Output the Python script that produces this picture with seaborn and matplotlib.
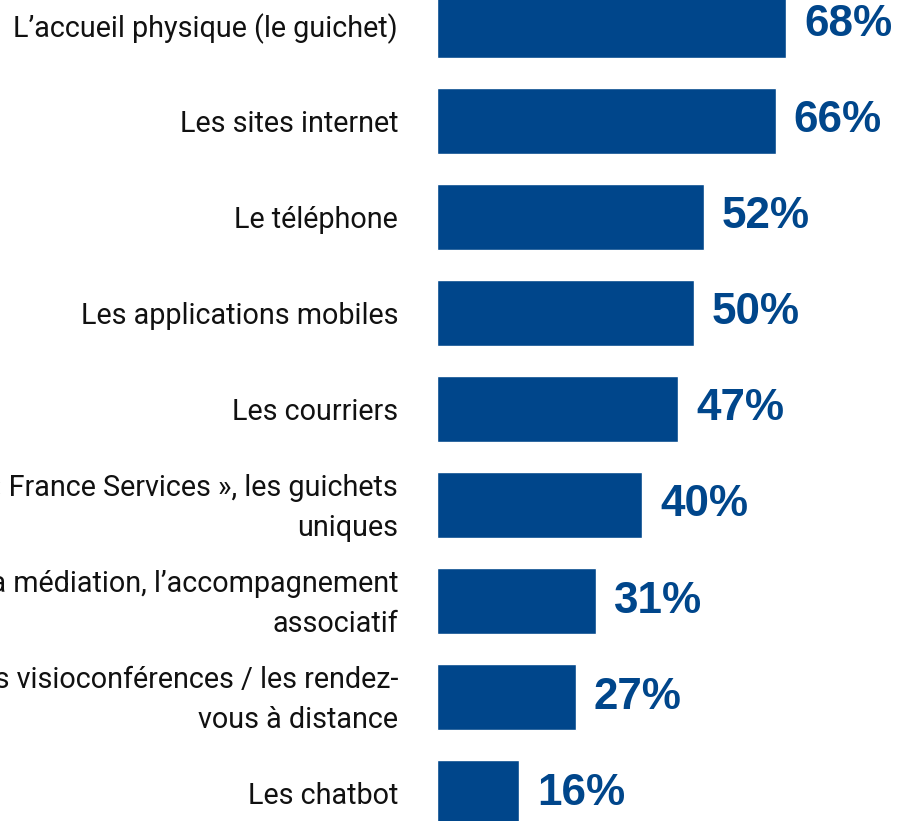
import matplotlib
matplotlib.use("Agg")
import matplotlib.pyplot as plt
import matplotlib.transforms as mtransforms
import seaborn as sns
import pandas as pd

categories = [
    "L\u2019accueil physique (le guichet)",
    "Les sites internet",
    "Le t\u00e9l\u00e9phone",
    "Les applications mobiles",
    "Les courriers",
    "\u00ab France Services \u00bb, les guichets\nuniques",
    "La m\u00e9diation, l\u2019accompagnement\nassociatif",
    "Les visioconf\u00e9rences / les rendez-\nvous \u00e0 distance",
    "Les chatbot",
]
values = [68, 66, 52, 50, 47, 40, 31, 27, 16]

df = pd.DataFrame({"cat": categories, "val": values})

sns.set_theme(style="white")
plt.rcParams["font.family"] = ["Roboto", "DejaVu Sans"]

W, H = 902, 821
fig = plt.figure(figsize=(W / 100, H / 100), dpi=100)
left_px = 437
ax = fig.add_axes([left_px / W, 0, 1 - left_px / W, 1])

color = "#00468B"
sns.barplot(data=df, x="val", y="cat", orient="h", color=color, width=0.69,
            saturation=1, ax=ax)

px_per_pct = 5.133
ax.set_xlim(0, (W - left_px) / px_per_pct)
ax.set_ylim((H - 25) / 96, -25 / 96)

ax.bar_label(ax.containers[0], labels=[f"{v}%" for v in values], padding=13,
             fontsize=31.7, fontweight="bold", color=color,
             family="Liberation Sans")

ax.set_xlabel("")
ax.set_ylabel("")
ax.set_xticks([])
ax.tick_params(axis="y", length=0, pad=28)
for lab in ax.get_yticklabels():
    lab.set_fontsize(20.7)
    lab.set_color("#111111")
    lab.set_multialignment("right")
    if "\n" in lab.get_text():
        lab.set_linespacing(1.58)
        lab.set_verticalalignment("center")
        lab.set_transform(lab.get_transform() +
                          mtransforms.ScaledTranslation(0, -3 / 100, fig.dpi_scale_trans))
for s in ax.spines.values():
    s.set_visible(False)

fig.savefig("out.png", dpi=100)
